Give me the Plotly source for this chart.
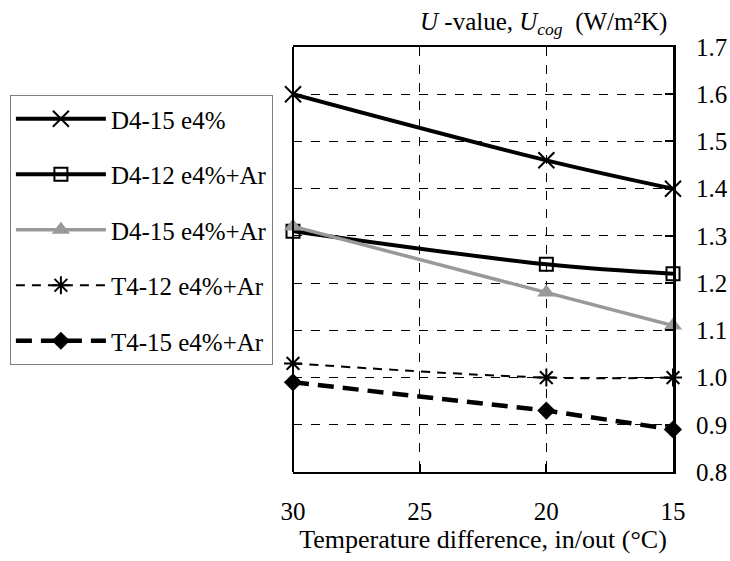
import plotly.graph_objects as go

temp_diff = [30, 20, 15]
names = ["D4-15 e4%", "D4-12 e4%+Ar", "D4-15 e4%+Ar", "T4-12 e4%+Ar", "T4-15 e4%+Ar"]
d4_15 = [1.60, 1.46, 1.40]
d4_12_ar = [1.31, 1.24, 1.22]
d4_15_ar = [1.32, 1.18, 1.11]
t4_12_ar = [1.03, 1.00, 1.00]
t4_15_ar = [0.99, 0.93, 0.89]
x_ticks = [30, 25, 20, 15]
y_ticks = [0.8, 0.9, 1.0, 1.1, 1.2, 1.3, 1.4, 1.5, 1.6, 1.7]

FONT = "Liberation Serif, DejaVu Serif, serif"
FS = 25
fig = go.Figure()

series = [
    (d4_15, dict(color="black", width=4, shape="spline"), dict(symbol="x-thin-open", size=16, line=dict(color="black", width=2), color="black")),
    (d4_12_ar, dict(color="black", width=4, shape="spline"), dict(symbol="square-open", size=13, line=dict(color="black", width=2), color="black")),
    (d4_15_ar, dict(color="#999999", width=3.5), dict(symbol="triangle-up", size=16, color="#999999")),
    (t4_12_ar, dict(color="black", width=2, dash="9px,7px", shape="spline"), dict(symbol="asterisk-open", size=15, line=dict(color="black", width=2), color="black")),
    (t4_15_ar, dict(color="black", width=4.5, dash="16px,9px"), dict(symbol="diamond", size=14, color="black")),
]
for i, (vals, line, marker) in enumerate(series):
    fig.add_trace(go.Scatter(
        x=temp_diff, y=vals, name=names[i], mode="lines+markers",
        line=line, marker=marker, legendgroup=f"g{i}", cliponaxis=False,
    ))

fig.update_layout(
    width=730, height=561,
    margin=dict(l=293, r=57, t=47, b=89, autoexpand=False),
    paper_bgcolor="white", plot_bgcolor="white",
    font=dict(family=FONT, size=FS, color="black"),
    showlegend=True,
    legend=dict(
        x=-0.745, y=0.887, xanchor="left", yanchor="top",
        bgcolor="white", bordercolor="#808080", borderwidth=1,
        font=dict(family=FONT, size=FS, color="black"),
        itemwidth=90, traceorder="grouped", tracegroupgap=20,
    ),
    xaxis=dict(
        range=[30, 15], tickvals=x_ticks, ticktext=[str(v) for v in x_ticks],
        showgrid=True, gridcolor="black", griddash="dash", gridwidth=1,
        showline=True, linecolor="black", linewidth=2, mirror=True,
        ticks="inside", ticklen=8, tickcolor="black", tickwidth=2,
        ticklabelstandoff=16, zeroline=False, automargin=False,
        tickfont=dict(family=FONT, size=FS),
        title=dict(text="Temperature difference, in/out (°C)", font=dict(family=FONT, size=26), standoff=2),
    ),
    yaxis=dict(
        range=[0.8, 1.7], tickvals=y_ticks, tickformat=".1f", side="right",
        showgrid=True, gridcolor="black", griddash="dash", gridwidth=1,
        showline=True, linecolor="black", linewidth=3,
        ticks="inside", ticklen=8, tickcolor="black", tickwidth=2,
        ticklabelstandoff=15, zeroline=False, automargin=False,
        tickfont=dict(family=FONT, size=FS),
    ),
    shapes=[dict(type="line", xref="paper", yref="paper", x0=0, x1=0, y0=0, y1=1,
                 line=dict(color="black", width=2))],
    annotations=[dict(
        text="<i>U</i> -value, <i>U</i><sub><i>cog</i></sub>  (W/m²K)",
        xref="paper", yref="paper", x=0.99, y=1.015, xanchor="right", yanchor="bottom",
        showarrow=False, font=dict(family=FONT, size=FS, color="black"),
    )],
)

fig.write_html(
    "out.html",
    config={"displayModeBar": False},
    post_script="document.body.style.margin='0';document.body.style.overflow='hidden';",
)
